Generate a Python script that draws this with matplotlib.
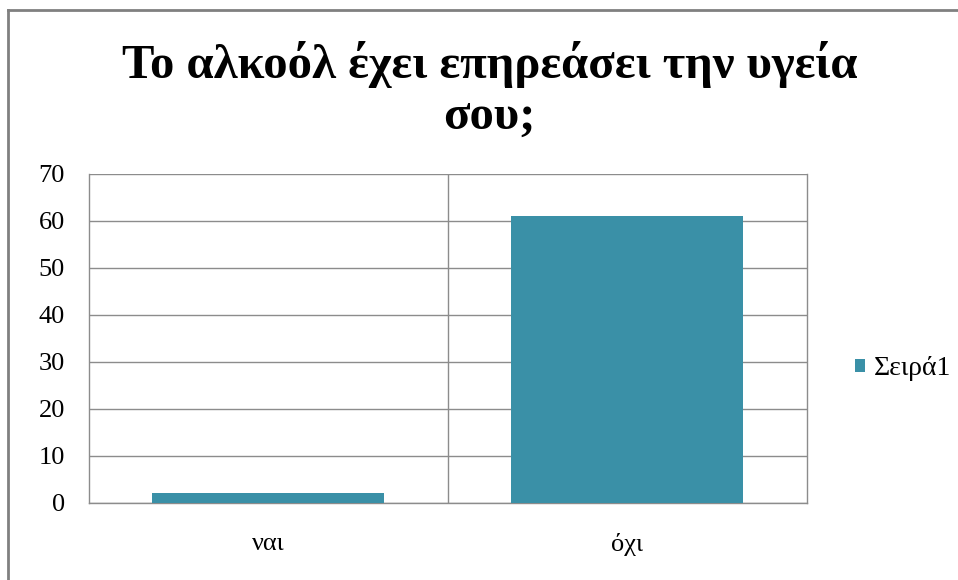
import matplotlib.pyplot as plt
from matplotlib.lines import Line2D
from matplotlib.patches import Patch

categories = ['ναι', 'όχι']
values = [2, 61]
series_name = 'Σειρά1'
title = 'Το αλκοόλ έχει επηρεάσει την υγεία\nσου;'

plt.rcParams['font.family'] = ['Liberation Serif', 'DejaVu Serif']

fig = plt.figure(figsize=(9.58, 5.80), dpi=100)
ax = fig.add_axes([0.0926, 0.1333, 0.7495, 0.5672])

bar_color = '#3A90A7'
grid_color = '#8C8C8C'

x = range(len(categories))
ax.bar(x, values, width=0.645, color=bar_color, zorder=3)

ax.set_xlim(-0.5, len(categories) - 0.5)
ax.set_ylim(0, 70)
ax.set_yticks(range(0, 71, 10))
ax.set_xticks(list(x))
ax.set_xticklabels(categories)

ax.yaxis.grid(True, color=grid_color, linewidth=1.0, zorder=0)
# divider between the two categories
for b in range(1, len(categories)):
    ax.axvline(b - 0.5, color=grid_color, linewidth=1.0, zorder=0)

for side in ['left', 'right', 'bottom']:
    ax.spines[side].set_color(grid_color)
    ax.spines[side].set_linewidth(1.0)
ax.spines['top'].set_visible(False)

ax.tick_params(axis='both', length=0, labelsize=19, colors='black')
ax.tick_params(axis='y', pad=17)
ax.tick_params(axis='x', pad=22)

fig.text(0.511, 0.845, title, ha='center', va='center', fontsize=35,
         fontweight='bold', linespacing=1.2)

handle = Patch(facecolor=bar_color, edgecolor='none')
fig.legend([handle], [series_name], loc='center left',
           bbox_to_anchor=(0.866, 0.364), frameon=False, fontsize=20,
           handlelength=0.38, handleheight=0.38, handletextpad=0.3)

# outer chart frame (top and left edges visible)
fig.add_artist(Line2D([0.0085, 1.0], [0.983, 0.983], color='#808080',
                      linewidth=2.0, transform=fig.transFigure))
fig.add_artist(Line2D([0.0085, 0.0085], [0.0, 0.983], color='#808080',
                      linewidth=2.0, transform=fig.transFigure))

fig.savefig('out.png', dpi=100)
